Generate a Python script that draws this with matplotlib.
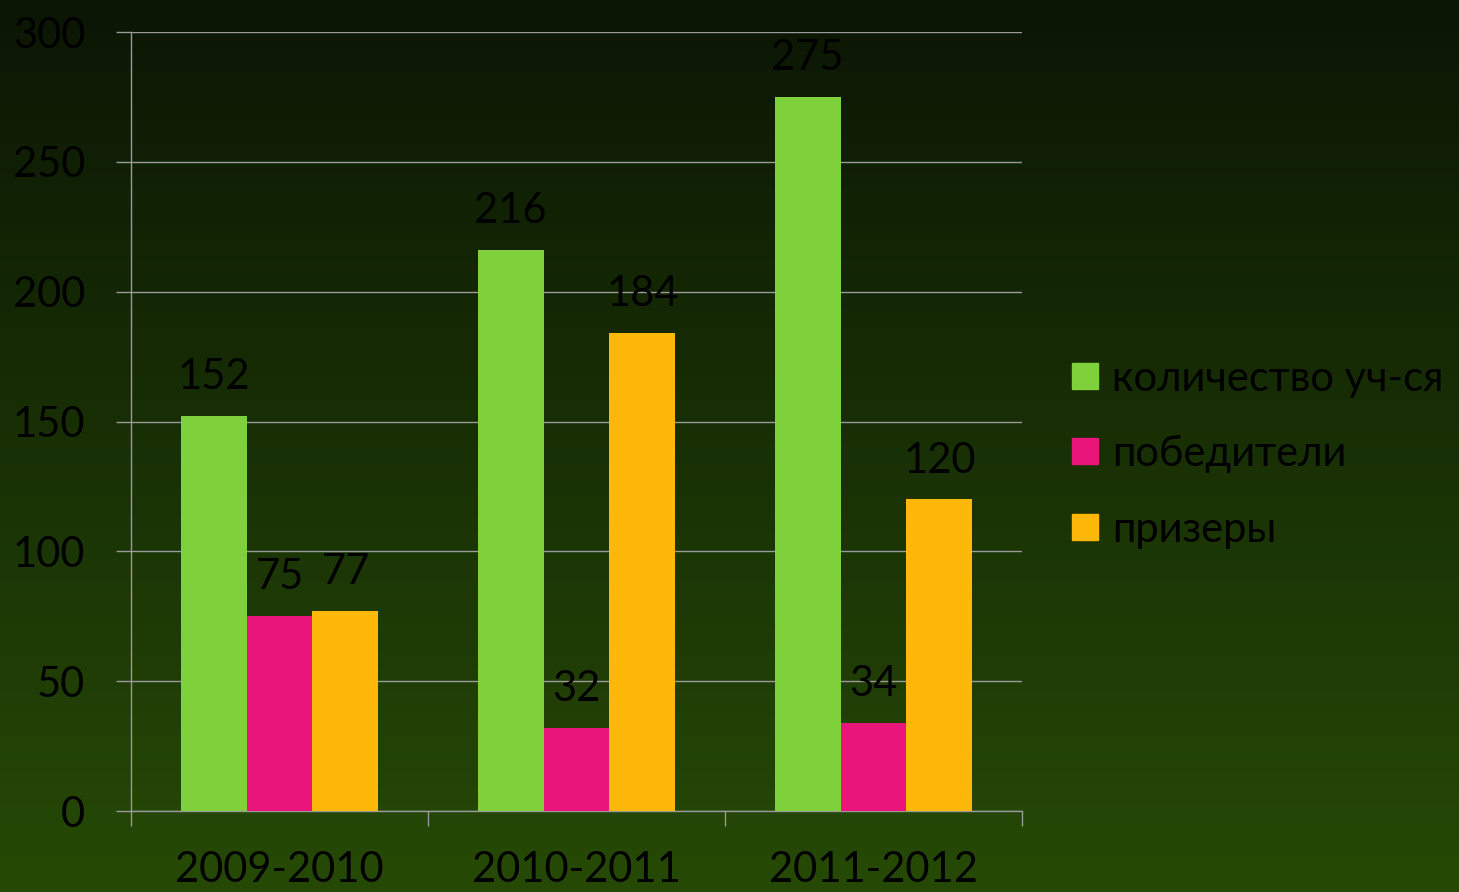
import matplotlib.pyplot as plt
import numpy as np
from matplotlib.lines import Line2D
from matplotlib.colors import LinearSegmentedColormap

plt.rcParams['font.family'] = ['Lato', 'DejaVu Sans']

years = ['2009-2010', '2010-2011', '2011-2012']
series = ['количество уч-ся', 'победители', 'призеры']
participants = [152, 216, 275]
winners = [75, 32, 34]
prize = [77, 184, 120]
colors = ['#7fd13b', '#ea157a', '#feb80a']

fig = plt.figure(figsize=(14.59, 8.92), dpi=100)

# gradient background
bg = fig.add_axes([0, 0, 1, 1], zorder=-10)
cmap = LinearSegmentedColormap.from_list('bg', ['#0b1604', '#264a06'])
bg.imshow(np.linspace(0, 1, 256).reshape(-1, 1), aspect='auto', cmap=cmap,
          extent=[0, 1, 0, 1])
bg.axis('off')

ax = fig.add_axes([0.0898, 0.0908, 0.6107, 0.8733])
ax.patch.set_alpha(0)

x = np.arange(len(years))
w = 0.222
data = [participants, winners, prize]
for i, vals in enumerate(data):
    bars = ax.bar(x + (i - 1) * w, vals, w, color=colors[i], zorder=3)
    for b, v in zip(bars, vals):
        ax.annotate(str(v), (b.get_x() + b.get_width() / 2, v),
                    xytext=(0, 28), textcoords='offset points',
                    ha='center', va='center', fontsize=30, color='black', zorder=4)

ax.set_xlim(-0.5, 2.5)
ax.set_ylim(0, 300)
ax.set_yticks(range(0, 301, 50))
ax.grid(axis='y', color='#9a9a9a', linewidth=1, zorder=0)
ax.tick_params(axis='y', length=11, color='#9a9a9a', labelsize=30, pad=22,
               labelcolor='black', width=1)

ax.set_xticks(x)
ax.set_xticklabels(years)
ax.tick_params(axis='x', which='major', length=0, labelsize=30, pad=29,
               labelcolor='black')
ax.set_xticks([-0.5, 0.5, 1.5, 2.5], minor=True)
ax.tick_params(axis='x', which='minor', length=11, color='#9a9a9a', width=1)

for s in ['top', 'right']:
    ax.spines[s].set_visible(False)
for s in ['left', 'bottom']:
    ax.spines[s].set_color('#9a9a9a')
    ax.spines[s].set_linewidth(1)

handles = [Line2D([], [], marker='s', linestyle='none', markersize=19,
                  markerfacecolor=c, markeredgecolor=c) for c in colors]
leg = fig.legend(handles, series, loc='center left', bbox_to_anchor=(0.708, 0.491),
                 frameon=False, fontsize=30, handlelength=0.7, handletextpad=0.3,
                 labelspacing=0.9, labelcolor='black')

fig.savefig('out.png', dpi=100)
